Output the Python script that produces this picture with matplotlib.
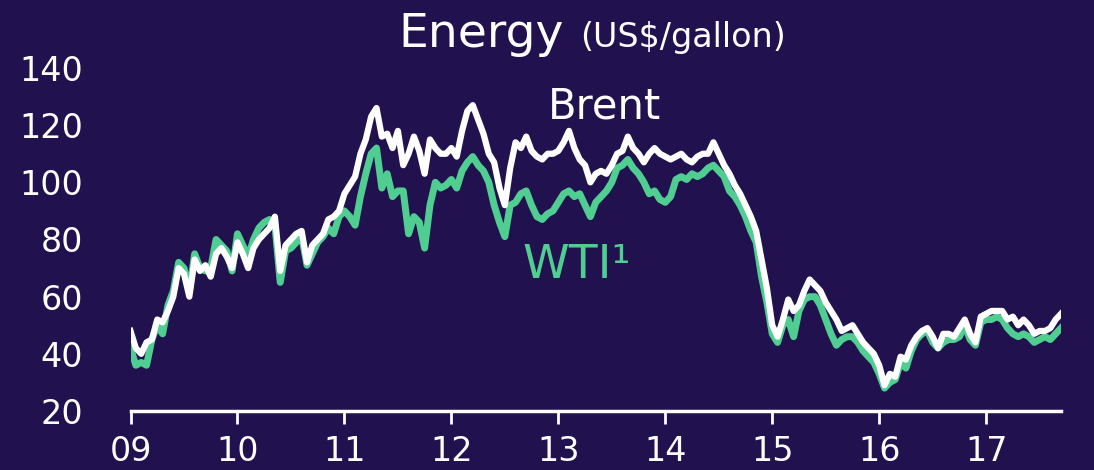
import matplotlib
matplotlib.use('Agg')
import matplotlib.pyplot as plt
import numpy as np

# half-monthly-ish readings (20 per year), 2009.00 -> 2017.70
brent = [48, 42, 40, 44, 45, 52, 51, 55, 60, 70, 68, 60, 73, 69, 71, 67, 75, 77, 74, 70,        # 09
         79, 75, 70, 77, 80, 82, 84, 88, 69, 78, 80, 82, 83, 72, 78, 80, 82, 87, 88, 90,        # 10
         96, 99, 102, 110, 115, 123, 126, 116, 117, 112, 118, 106, 110, 116, 111, 103, 115, 112, 110, 110,  # 11
         112, 109, 118, 125, 127, 122, 117, 110, 107, 98, 92, 105, 114, 112, 116, 111, 109, 108, 110, 110,  # 12
         111, 114, 118, 112, 108, 106, 100, 103, 104, 103, 106, 110, 111, 116, 112, 110, 107, 110, 112, 110,  # 13
         109, 108, 109, 110, 108, 107, 109, 110, 110, 114, 110, 106, 103, 99, 96, 92, 88, 83, 73, 63,  # 14
         50, 46, 52, 59, 55, 57, 62, 66, 64, 62, 58, 55, 52, 48, 49, 50, 47, 44, 42, 40,        # 15
         36, 29, 33, 32, 39, 38, 43, 46, 48, 49, 46, 42, 47, 47, 46, 49, 52, 47, 44, 53,        # 16
         54, 55, 55, 55, 52, 53, 50, 52, 50, 47, 48, 48, 49, 52, 54]                            # 17

wti = [42, 36, 37, 36, 45, 50, 47, 57, 62, 72, 70, 62, 75, 70, 69, 70, 80, 78, 76, 69,
       82, 78, 74, 80, 84, 86, 87, 85, 65, 76, 77, 79, 81, 71, 75, 79, 81, 84, 82, 88,
       90, 88, 85, 95, 103, 110, 112, 98, 103, 95, 97, 97, 82, 88, 86, 77, 92, 100, 98, 99,
       101, 98, 104, 107, 109, 106, 104, 100, 92, 86, 81, 92, 93, 96, 97, 92, 88, 87, 89, 90,
       93, 96, 97, 95, 96, 92, 88, 93, 95, 97, 100, 105, 106, 108, 105, 103, 100, 96, 97, 94,
       93, 95, 101, 102, 101, 103, 102, 103, 105, 106, 104, 102, 97, 95, 92, 88, 83, 79, 67, 58,
       47, 44, 50, 52, 46, 55, 59, 60, 60, 57, 52, 47, 43, 45, 46, 46, 44, 41, 39, 37,
       33, 28, 30, 31, 37, 35, 41, 45, 47, 48, 44, 42, 44, 45, 45, 46, 50, 45, 43, 51,
       52, 52, 53, 52, 49, 47, 46, 47, 46, 44, 45, 46, 45, 47, 49]

years = np.arange(len(brent)) * 0.05 + 9.0
year_ticks = list(range(9, 18))
year_labels = ['%02d' % y for y in year_ticks]
y_ticks = [20, 40, 60, 80, 100, 120, 140]

bg = '#21114e'
green = '#50cd91'

fig = plt.figure(figsize=(10.94, 4.70), dpi=100, facecolor=bg)
ax = fig.add_axes([130.5 / 1094, 59 / 470, (1061 - 130.5) / 1094, 343 / 470])
ax.set_facecolor(bg)

ax.plot(years, wti, color=green, lw=5, solid_joinstyle='round')
ax.plot(years, brent, color='white', lw=4.5, solid_joinstyle='round')

ax.set_xlim(9.0, 17.7)
ax.set_ylim(20, 140)
ax.set_xticks(year_ticks)
ax.set_xticklabels(year_labels)
ax.set_yticks(y_ticks)

for s in ['top', 'right', 'left']:
    ax.spines[s].set_visible(False)
ax.spines['bottom'].set_color('white')
ax.spines['bottom'].set_linewidth(2.5)

ax.tick_params(axis='x', colors='white', length=9, width=2, labelsize=24, pad=8)
ax.tick_params(axis='y', colors='white', length=0, labelsize=24, pad=34)

ax.text(12.9, 122.5, 'Brent', color='white', fontsize=30)
ax.text(12.66, 66.5, 'WTI\u00b9', color=green, fontsize=34)

fig.text(398 / 1094, (470 - 47) / 470, 'Energy', color='white', fontsize=34, va='baseline')
fig.text(580 / 1094, (470 - 47) / 470, '(US$/gallon)', color='white', fontsize=24, va='baseline')

fig.savefig('out.png', dpi=100, facecolor=bg)
